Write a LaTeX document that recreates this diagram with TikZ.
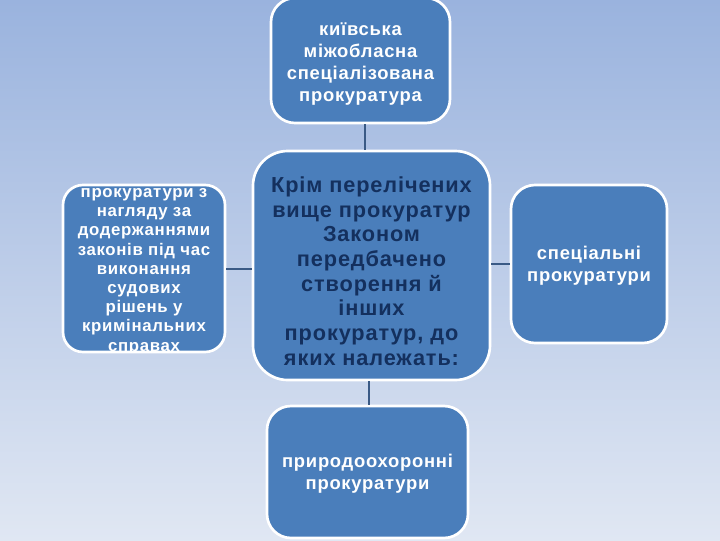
\documentclass[tikz,border=0pt]{standalone}
\usepackage{fontspec}
\setmainfont{Liberation Sans}[LetterSpace=4]
\newfontfamily\centerfont{Liberation Sans}[LetterSpace=4]
\usetikzlibrary{calc}
\definecolor{bgtop}{HTML}{9AB3DE}
\definecolor{bgbot}{HTML}{E0E7F3}
\definecolor{boxfill}{HTML}{4A7EBB}
\definecolor{navy}{HTML}{14305E}
\definecolor{conn}{HTML}{3A5A85}
\begin{document}
\begin{tikzpicture}[x=0.75pt,y=-0.75pt,
  box/.style={fill=boxfill,draw=white,line width=2pt,inner sep=0pt},
  wtext/.style={text=white,font=\bfseries\fontsize{13.8}{16.5}\selectfont,align=center},
  link/.style={draw=conn,line width=1.5pt}]
\useasboundingbox (0,0) rectangle (720,540);
\shade[top color=bgtop,bottom color=bgbot] (0,0) rectangle (720,540);

\node[box,rounded corners=18pt,minimum width=134.25pt,minimum height=93.75pt] (top) at (360.5,60.5) {};
\node[wtext] (toptext) at (360.5,64) {київська\\міжобласна\\спеціалізована\\прокуратура};

\node[box,rounded corners=26pt,minimum width=177.75pt,minimum height=171.75pt] (center) at (371.5,265.5) {};
\node[text=navy,font=\centerfont\bfseries\fontsize{16.3}{18.5}\selectfont,align=center] (centertext) at (371.5,271)
  {Крім перелічених\\вище прокуратур\\Законом\\передбачено\\створення й\\інших\\прокуратур, до\\яких належать:};

\node[box,rounded corners=15pt,minimum width=121.5pt,minimum height=125.25pt,
  path picture={\node[text=white,font=\bfseries\fontsize{12.6}{14.4}\selectfont,align=center] at ($(path picture bounding box.center)+(0,3)$)
  {прокуратури з\\нагляду за\\додержаннями\\законів під час\\виконання\\судових\\рішень у\\кримінальних\\справах};}] (left) at (144,268.5) {};

\node[box,rounded corners=18pt,minimum width=117pt,minimum height=118.5pt] (right) at (589,264) {};
\node[wtext] (righttext) at (589,266) {спеціальні\\прокуратури};

\node[box,rounded corners=18pt,minimum width=150.75pt,minimum height=99pt] (bottom) at (367.5,472) {};
\node[wtext] (bottomtext) at (367.5,474) {природоохоронні\\прокуратури};

\draw[link] ($(top.south)+(4.5,0)$) -- ($(center.north)+(-6.5,0)$);
\draw[link] (left.east) -- (left.east -| center.west);
\draw[link] (right.west -| center.east) -- (right.west);
\draw[link] ($(center.south)+(-2.5,0)$) -- ($(bottom.north)+(1.5,0)$);
\end{tikzpicture}
\end{document}
